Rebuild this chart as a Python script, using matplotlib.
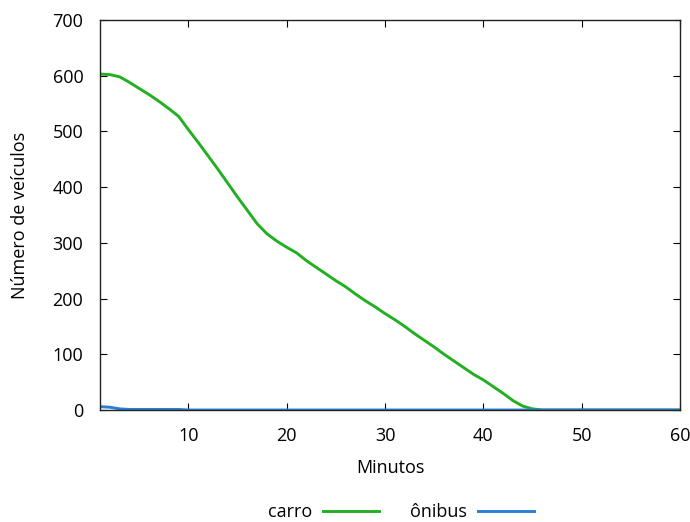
import matplotlib
matplotlib.use("Agg")
import matplotlib.pyplot as plt
import numpy as np

minutos = list(range(1, 61))
carro = [603, 602, 598, 588, 577, 566, 554, 541, 527, 503,
         480, 456, 432, 407, 382, 358, 334, 316, 303, 292,
         282, 268, 256, 244, 232, 221, 208, 196, 185, 173,
         162, 150, 137, 125, 113, 100, 88, 76, 64, 54,
         42, 30, 17, 7, 2, 0, 0, 0, 0, 0,
         0, 0, 0, 0, 0, 0, 0, 0, 0, 0]
onibus = [6, 5, 2, 1, 1, 1, 1, 1, 1, 0,
          0, 0, 0, 0, 0, 0, 0, 0, 0, 0,
          0, 0, 0, 0, 0, 0, 0, 0, 0, 0,
          0, 0, 0, 0, 0, 0, 0, 0, 0, 0,
          0, 0, 0, 0, 0, 0, 0, 0, 0, 0,
          0, 0, 0, 0, 0, 0, 0, 0, 0, 0]
xticks = [10, 20, 30, 40, 50, 60]
yticks = [0, 100, 200, 300, 400, 500, 600, 700]

plt.rcParams['font.family'] = ['Open Sans', 'DejaVu Sans']
plt.rcParams['font.size'] = 13

fig = plt.figure(figsize=(6.9, 5.22), dpi=100)
ax = fig.add_axes([100/690, 1 - 410/522, 580/690, 390/522])

ax.plot(minutos, carro, color='#22b022', lw=2.1, label='carro')
ax.plot(minutos, onibus, color='#2a7fd0', lw=2.1, label='ônibus')

ax.set_xlim(1, 60)
ax.set_ylim(0, 700)
ax.set_xticks(xticks)
ax.set_yticks(yticks)
ax.tick_params(direction='in', top=True, right=True, length=5, width=0.8, pad=12)
ax.tick_params(axis='x', pad=12)
for s in ax.spines.values():
    s.set_linewidth(1.0)
    s.set_color('#222222')

ax.set_xlabel('Minutos', labelpad=10)
ax.set_ylabel('Número de veículos', labelpad=17)

leg = fig.legend(loc='center', bbox_to_anchor=(401/690, 1 - 512/522), ncol=2,
                 frameon=False, markerfirst=False, handlelength=3.1,
                 columnspacing=1.7, handletextpad=0.6, borderpad=0.2)

fig.savefig('out.png', dpi=100)
